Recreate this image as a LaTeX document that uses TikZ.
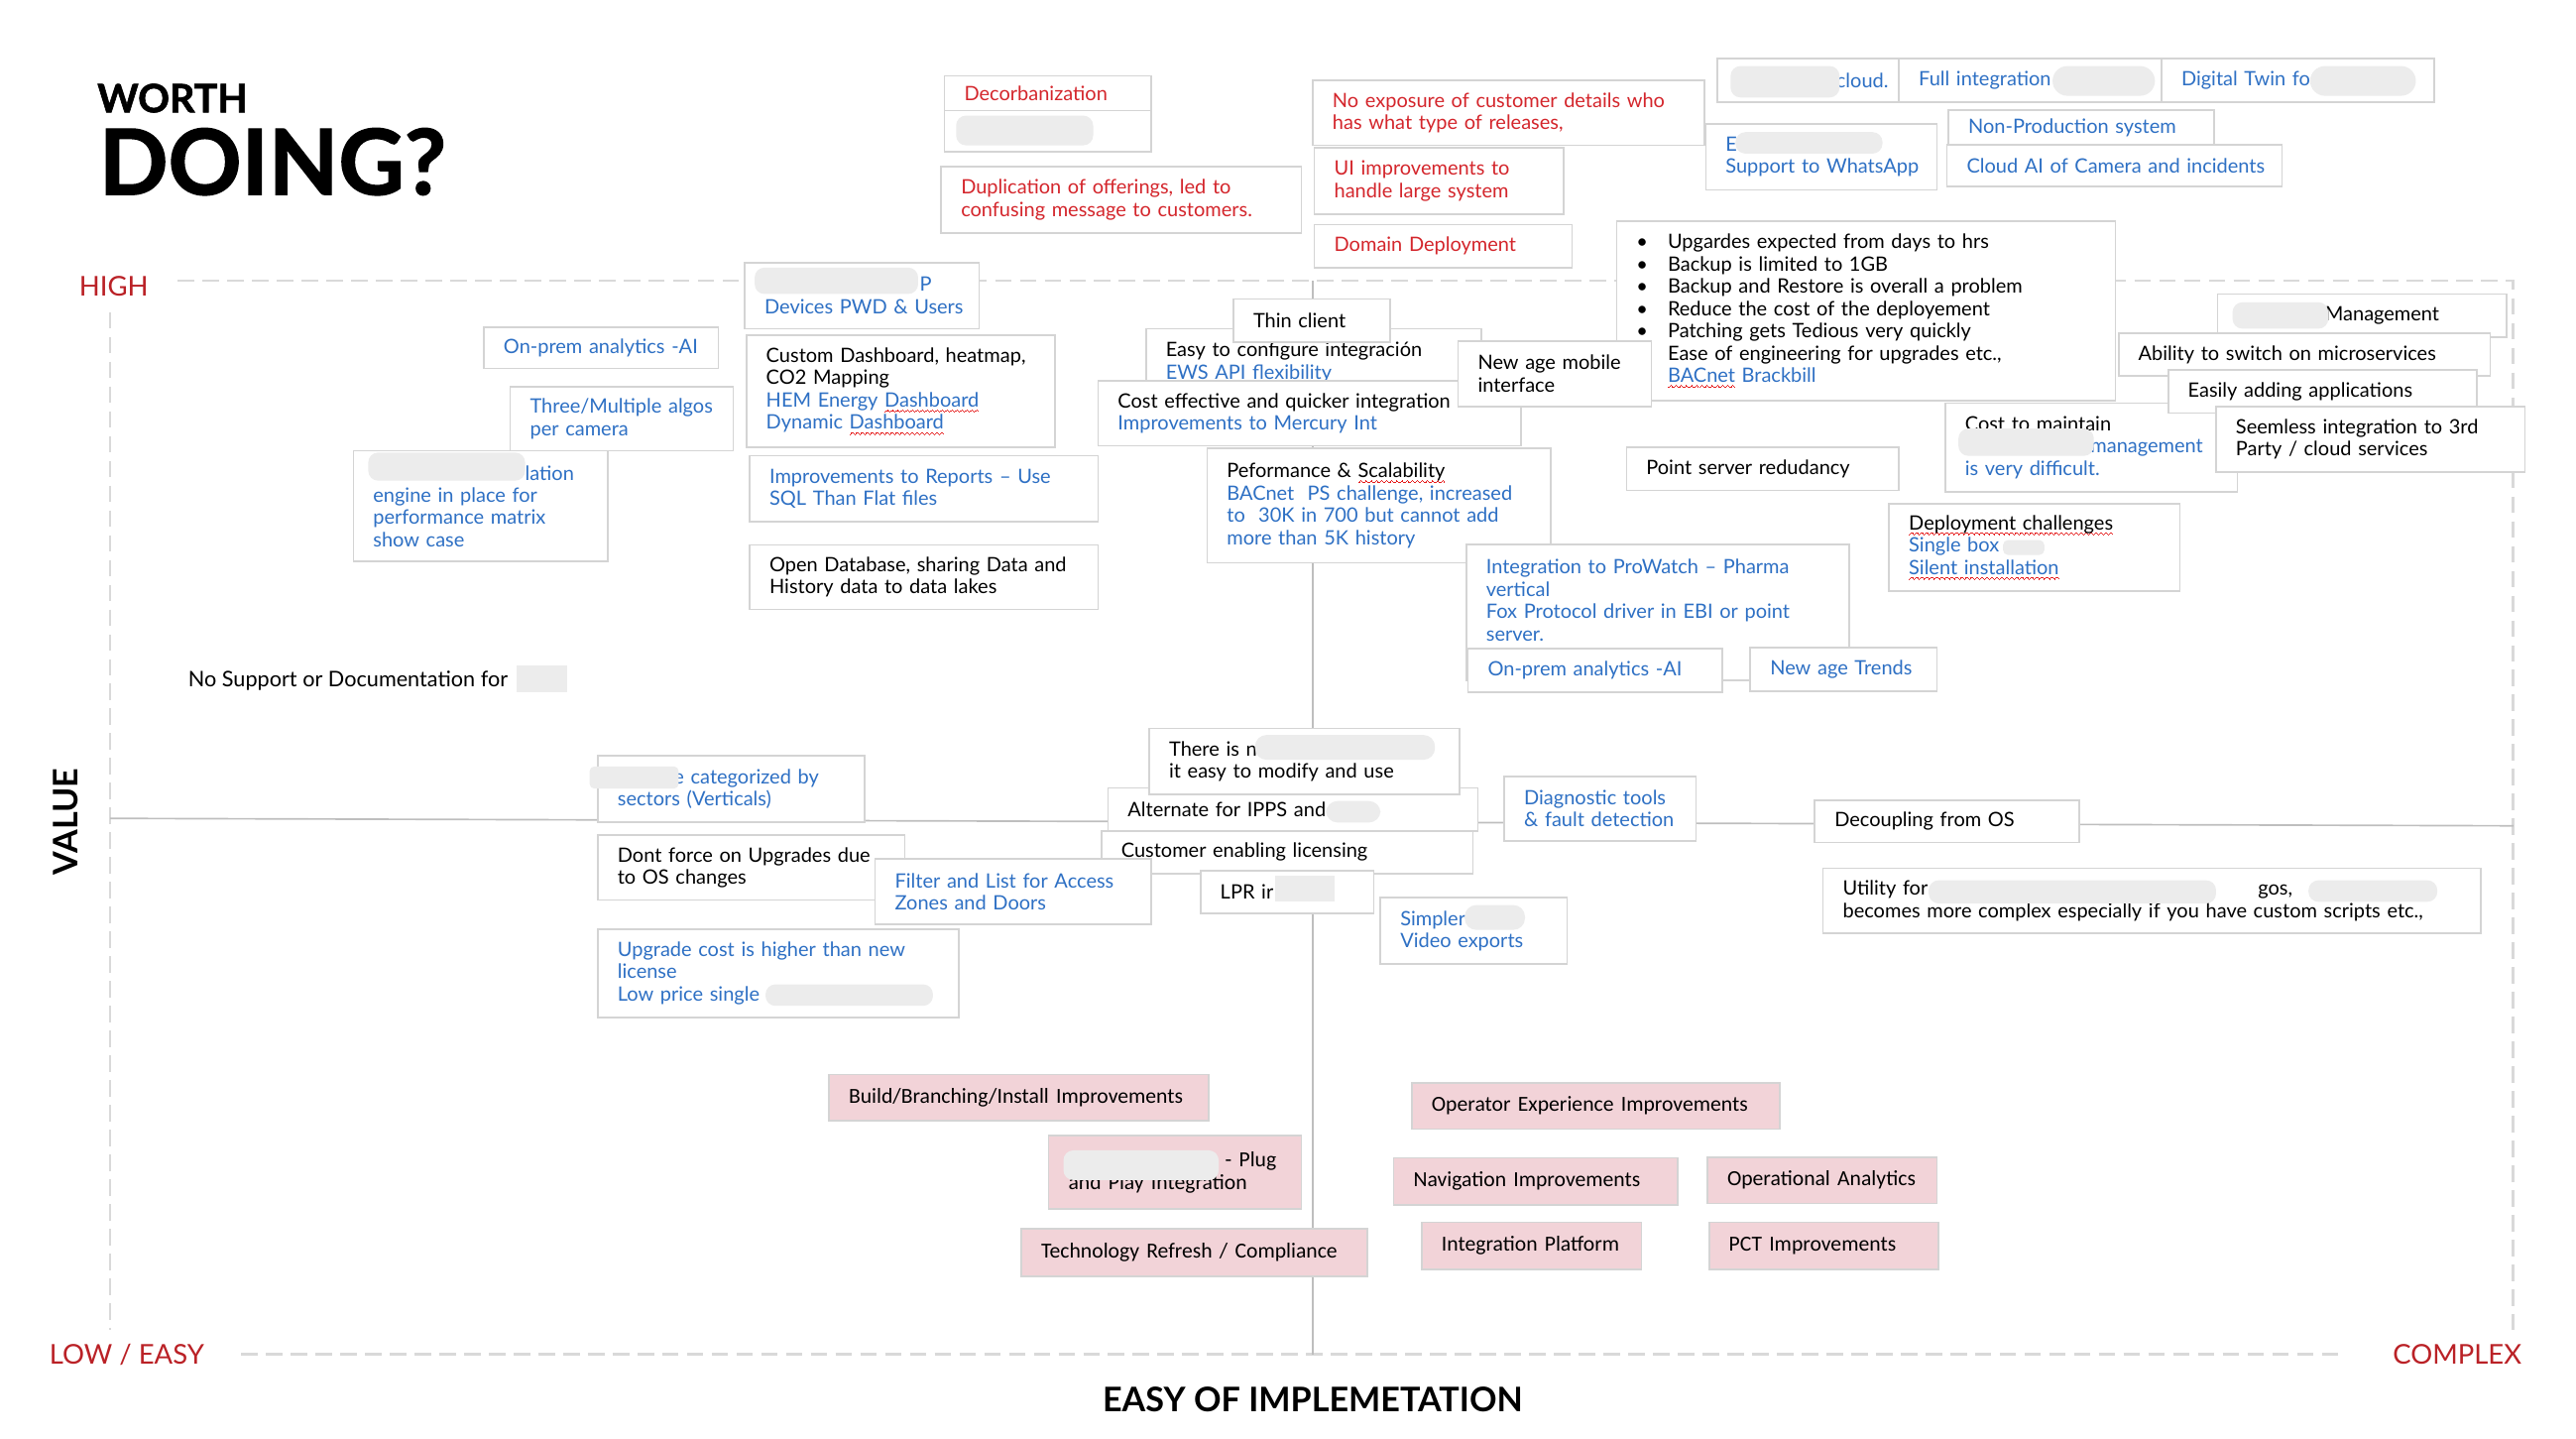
\documentclass[tikz,border=0pt]{standalone}
\usepackage{fontspec}
\setmainfont{Lato}
\newfontfamily\pinkfont{Carlito}
\newfontfamily\titlefont[BoldFeatures={FakeBold=1.5}]{Lato}
\usepackage{xcolor}
\usepackage{tikz}

\definecolor{hred}{RGB}{212,38,44}
\definecolor{axisred}{RGB}{186,33,38}
\definecolor{hblue}{RGB}{46,112,196}
\definecolor{cardline}{RGB}{212,212,212}
\definecolor{pinkfill}{RGB}{242,211,216}
\definecolor{blobgray}{RGB}{236,236,236}
\definecolor{axisgray}{RGB}{190,190,190}
\definecolor{dashgray}{RGB}{217,217,217}
\definecolor{wavered}{RGB}{230,30,30}

\newcommand\cardfont{\fontsize{12}{13.5}\selectfont}
\newcommand\blt{\makebox[19pt][l]{\textbullet}}
\newcommand\wavecell{\rule[-3.4pt]{.5pt}{.6pt}\rule[-3.0pt]{.5pt}{.6pt}\rule[-2.6pt]{.5pt}{.6pt}\rule[-2.2pt]{.5pt}{.6pt}\rule[-2.6pt]{.5pt}{.6pt}\rule[-3.0pt]{.5pt}{.6pt}}
\newcommand\redwave[1]{\leavevmode\setbox0\hbox{#1}\rlap{\textcolor{wavered}{\hbox to\wd0{\xleaders\hbox{\wavecell}\hfill}}}\box0\relax}
\newcommand\reddots[1]{\leavevmode\setbox0\hbox{#1}\rlap{\textcolor{wavered!50!gray}{\hbox to\wd0{\xleaders\hbox{\rule[-2.6pt]{.6pt}{.6pt}\hspace{.9pt}}\hfill}}}\box0\relax}

\begin{document}
\begin{tikzpicture}[x=1pt,y=-1pt,
  plain/.style={inner sep=0pt, outer sep=0pt},
  card/.style={draw=cardline, line width=1pt, fill=white, anchor=north west, outer sep=0pt,
    inner xsep=4pt, inner ysep=2pt, align=left, font=\cardfont,
    execute at begin node={\leftskip=8pt\rightskip=0pt plus 1fil minus 60pt}},
  redcard/.style={card, text=hred},
  bluecard/.style={card, text=hblue},
  pinkcard/.style={card, fill=pinkfill, font=\pinkfont\fontsize{13}{14}\selectfont},
  bsize/.code 2 args={\pgfmathsetmacro\cardtw{#1-8}\tikzset{minimum width=#1pt, minimum height=#2pt, text width/.expanded=\cardtw pt}},
  blob/.style={fill=blobgray, rounded corners=6pt},
  axisline/.style={draw=axisgray, line width=1pt},
  gridline/.style={draw=dashgray, line width=1.6pt, dash pattern=on 10pt off 5pt},
  axislabel/.style={plain, text=axisred, font=\fontsize{16.5}{17}\selectfont},
  bigbold/.style={plain, font=\bfseries\fontsize{20.5}{21}\selectfont}]
\useasboundingbox (0,0) rectangle (1560,870.7);

\node[plain, anchor=base west, font=\titlefont\bfseries\fontsize{23.7}{24}\selectfont] (worth) at (59,68) {WORTH};
\node[plain, anchor=base west, font=\titlefont\bfseries\fontsize{55}{55}\selectfont] (doing) at (60,117.8) {DOING?};

\draw[gridline] (107.6,170) -- (1522,170) -- (1522,805);
\draw[gridline] (66.7,189) -- (66.7,805);
\draw[gridline] (146,820) -- (1418,820);
\draw[axisline] (66.7,495.5) -- (1522,500);
\draw[axisline] (795,170) -- (795,820);

\node[axislabel, anchor=base west] (high) at (48,179) {HIGH};
\node[axislabel, anchor=base west] (low) at (30,826) {LOW / EASY};
\node[axislabel, anchor=base east] (complex) at (1527,826) {COMPLEX};
\node[bigbold, anchor=base] (easyimpl) at (795,855) {EASY OF IMPLEMETATION};
\node[bigbold, rotate=90, anchor=base] (value) at (47,497.5) {VALUE};

\node[redcard, bsize={125}{21}] (decarb) at (572,46) {Decorbanization};
\node[card, bsize={125}{25}] (decarbb) at (572,67) {};
\fill[blob] (579,70) rectangle (662,88);
\node[redcard, bsize={218}{40}] (dupl) at (570,101) {Duplication of offerings, led to\\confusing message to customers.};
\node[redcard, bsize={237}{39.4}] (noexp) at (795,48.6) {No exposure of customer details who\\has what type of releases,};
\node[redcard, bsize={151}{40}] (uiimp) at (796,89.6) {UI improvements to\\handle large system};
\node[redcard, bsize={156}{26}] (domain) at (796,136) {Domain Deployment};

\node[bluecard, bsize={110}{26.4}] (cloud) at (1040,35.6) {\hspace*{60pt}cloud.};
\fill[blob] (1048,40) rectangle (1114,59);
\node[bluecard, bsize={159}{26.4}] (fullint) at (1150,35.6) {Full integration};
\fill[blob, rounded corners=9pt] (1243,40) rectangle (1305,58);
\node[bluecard, bsize={165}{26.4}] (twin) at (1309,35.6) {Digital Twin fo};
\fill[blob, rounded corners=9pt] (1399,40) rectangle (1463,58);
\node[bluecard, bsize={140}{40}] (whats) at (1033,75) {E\\Support to WhatsApp};
\fill[blob] (1051,80) rectangle (1140,93);
\node[bluecard, bsize={161}{21}] (nonprod) at (1180,66.6) {Non-Production system};
\node[bluecard, bsize={203}{25.3}] (cloudai) at (1179,87.7) {Cloud AI of Camera and incidents};

\node[bluecard, bsize={142}{40}] (devices) at (451,159) {\hspace*{94pt}P\\Devices PWD \& Users};
\fill[blob] (457,162) rectangle (556,178);
\node[bluecard, bsize={142}{25}] (onpremA) at (293,198) {On-prem analytics -AI};
\node[bluecard, bsize={135}{39}] (algos) at (309,234) {Three/Multiple algos\\per camera};
\node[bluecard, bsize={154}{67}] (lation) at (214,273) {\hspace*{92pt}lation\\engine in place for\\performance matrix\\show case};
\fill[blob] (223,274) rectangle (318,291);
\node[card, bsize={187}{68}] (dashb) at (452,203) {Custom Dashboard, heatmap,\\CO2 Mapping\\\color{hblue}HEM Energy \redwave{Dashboard}\\Dynamic \redwave{Dashboard}};
\node[bluecard, bsize={211}{40}] (reports) at (454,276) {Improvements to Reports -- Use\\SQL Than Flat files};
\node[card, bsize={211}{39}] (opendb) at (454,330) {Open Database, sharing Data and\\History data to data lakes};
\node[plain, anchor=base west, font=\fontsize{13}{13.5}\selectfont] (nosupport) at (114,416) {No Support or Documentation for};
\fill[blobgray] (313,403) rectangle (343.5,419);

\node[card, bsize={203}{31.6}, text height=15pt, text depth=12.6pt] (easycfg) at (694,199) {Easy to configure integración\\\color{hblue}EWS API \reddots{flexibility}};
\node[card, bsize={256}{39.4}] (costeff) at (665,230.6) {Cost effective and quicker integration\\\color{hblue}Improvements to Mercury Int};
\node[card, bsize={95}{26}] (thin) at (747,181) {Thin client};
\node[card, bsize={302}{108.6}] (upgrades) at (979,134) {\blt Upgardes expected from days to hrs\\\blt Backup is limited to 1GB\\\blt Backup and Restore is overall a problem\\\blt Reduce the cost of the deployement\\\blt Patching gets Tedious very quickly\\\hspace*{19pt}Ease of engineering for upgrades etc.,\\\hspace*{19pt}\color{hblue}\redwave{BACnet} Brackbill};
\node[card, bsize={117}{39.5}] (mobile) at (883,206.5) {New age mobile\\interface};
\node[card, bsize={208}{69.3}] (perf) at (731,271.5) {Peformance \& \redwave{Scalability}\\\color{hblue}BACnet~ PS challenge, increased\\to~ 30K in 700 but cannot add\\more than 5K history};
\node[card, bsize={165}{26}] (redund) at (985,271) {Point server redudancy};

\node[card, bsize={177}{54}] (costm) at (1178,244) {Cost to maintain\\\color{hblue}\hspace*{76pt}management\\is very difficult.};
\fill[blob] (1186,259.5) rectangle (1268,276);
\node[card, bsize={175}{26}] (mgmt) at (1343,178) {\hspace*{53pt}Management};
\fill[blob] (1352,183) rectangle (1410,199);
\node[card, bsize={225}{26}] (micro) at (1283,201.6) {Ability to switch on microservices};
\node[card, bsize={187}{26}] (apps) at (1313,224) {Easily adding applications};
\node[card, bsize={187}{40}] (thirdp) at (1342,246) {Seemless integration to 3rd\\Party / cloud services};
\node[card, bsize={176}{53}] (deploy) at (1144,305) {\redwave{Deployment challenges}\\\color{hblue}Single box\\\redwave{Silent installation}};
\fill[blob, rounded corners=3pt] (1213,327) rectangle (1238,336);

\node[bluecard, bsize={232}{82.3}, text height=15.8pt, text depth=62.5pt] (prowatch) at (888,329.7) {Integration to ProWatch -- Pharma\\vertical\\Fox Protocol driver in EBI or point\\server.};
\node[bluecard, bsize={154}{26.3}] (onpremB) at (889,392.7) {On-prem analytics -AI};
\node[bluecard, bsize={113}{26.6}] (trends) at (1060,392) {New age Trends};

\node[bluecard, bsize={161.6}{40.2}] (sectors) at (362,457.6) {\hspace*{34pt}e categorized by\\sectors (Verticals)};
\fill[blob, rounded corners=3pt] (357,464) rectangle (411,477.5);
\node[card, bsize={186}{39.4}] (osup) at (362,505.6) {Dont force on Upgrades due\\to OS changes};
\node[card, bsize={224}{26}] (ipps) at (671,477) {Alternate for IPPS and};
\fill[blob, rounded corners=7pt] (803,485) rectangle (836,498);
\node[card, bsize={188}{40}] (modify) at (696,441) {There is n\\it easy to modify and use};
\fill[blob, rounded corners=7pt] (760,445) rectangle (869,460);
\node[card, bsize={225}{26}] (licens) at (667,503) {Customer enabling licensing};
\node[bluecard, bsize={167}{39.6}] (zones) at (530,520) {Filter and List for Access\\Zones and Doors};
\node[card, bsize={105}{26}] (lpr) at (727,527) {LPR ir};
\fill[blobgray] (772,530) rectangle (808,546);
\node[bluecard, bsize={218.6}{53.4}] (upcost) at (362,562.6) {Upgrade cost is higher than new\\license\\Low price single};
\fill[blob] (463.6,596) rectangle (565,609);
\node[bluecard, bsize={116}{39}] (diag) at (911,470) {Diagnostic tools\\\& fault detection};
\node[bluecard, bsize={113}{40}] (video) at (836,543.6) {Simpler\\Video exports};
\fill[blob, rounded corners=7pt] (887,548) rectangle (923.5,563);
\node[card, bsize={160}{25.4}] (decoup) at (1099,484.6) {Decoupling from OS};
\node[card, bsize={398.5}{39.4}] (utility) at (1104,525.6) {Utility for\hspace*{200pt}gos,\\becomes more complex especially if you have custom scripts etc.,};
\fill[blob] (1168,533) rectangle (1342,547);
\fill[blob] (1398,533) rectangle (1476,546);

\node[pinkcard, bsize={230}{28}] (build) at (502,650.5) {Build/Branching/Install Improvements};
\node[pinkcard, bsize={153}{44.5}] (plug) at (635,687.5) {\hspace*{95pt}- Plug\\and Play Integration};
\fill[blob] (644,696.5) rectangle (738,714.5);
\node[pinkcard, bsize={209.5}{28.7}] (techref) at (618.5,744) {Technology Refresh / Compliance};
\node[pinkcard, bsize={223}{28}] (operator) at (855,655.6) {Operator Experience Improvements};
\node[pinkcard, bsize={172}{28.5}] (navig) at (844,701) {Navigation Improvements};
\node[pinkcard, bsize={139}{28}] (opana) at (1034,700.6) {Operational Analytics};
\node[pinkcard, bsize={133}{28.6}] (intplat) at (861,740) {Integration Platform};
\node[pinkcard, bsize={139}{28.6}] (pct) at (1035,740) {PCT Improvements};
\end{tikzpicture}
\end{document}
